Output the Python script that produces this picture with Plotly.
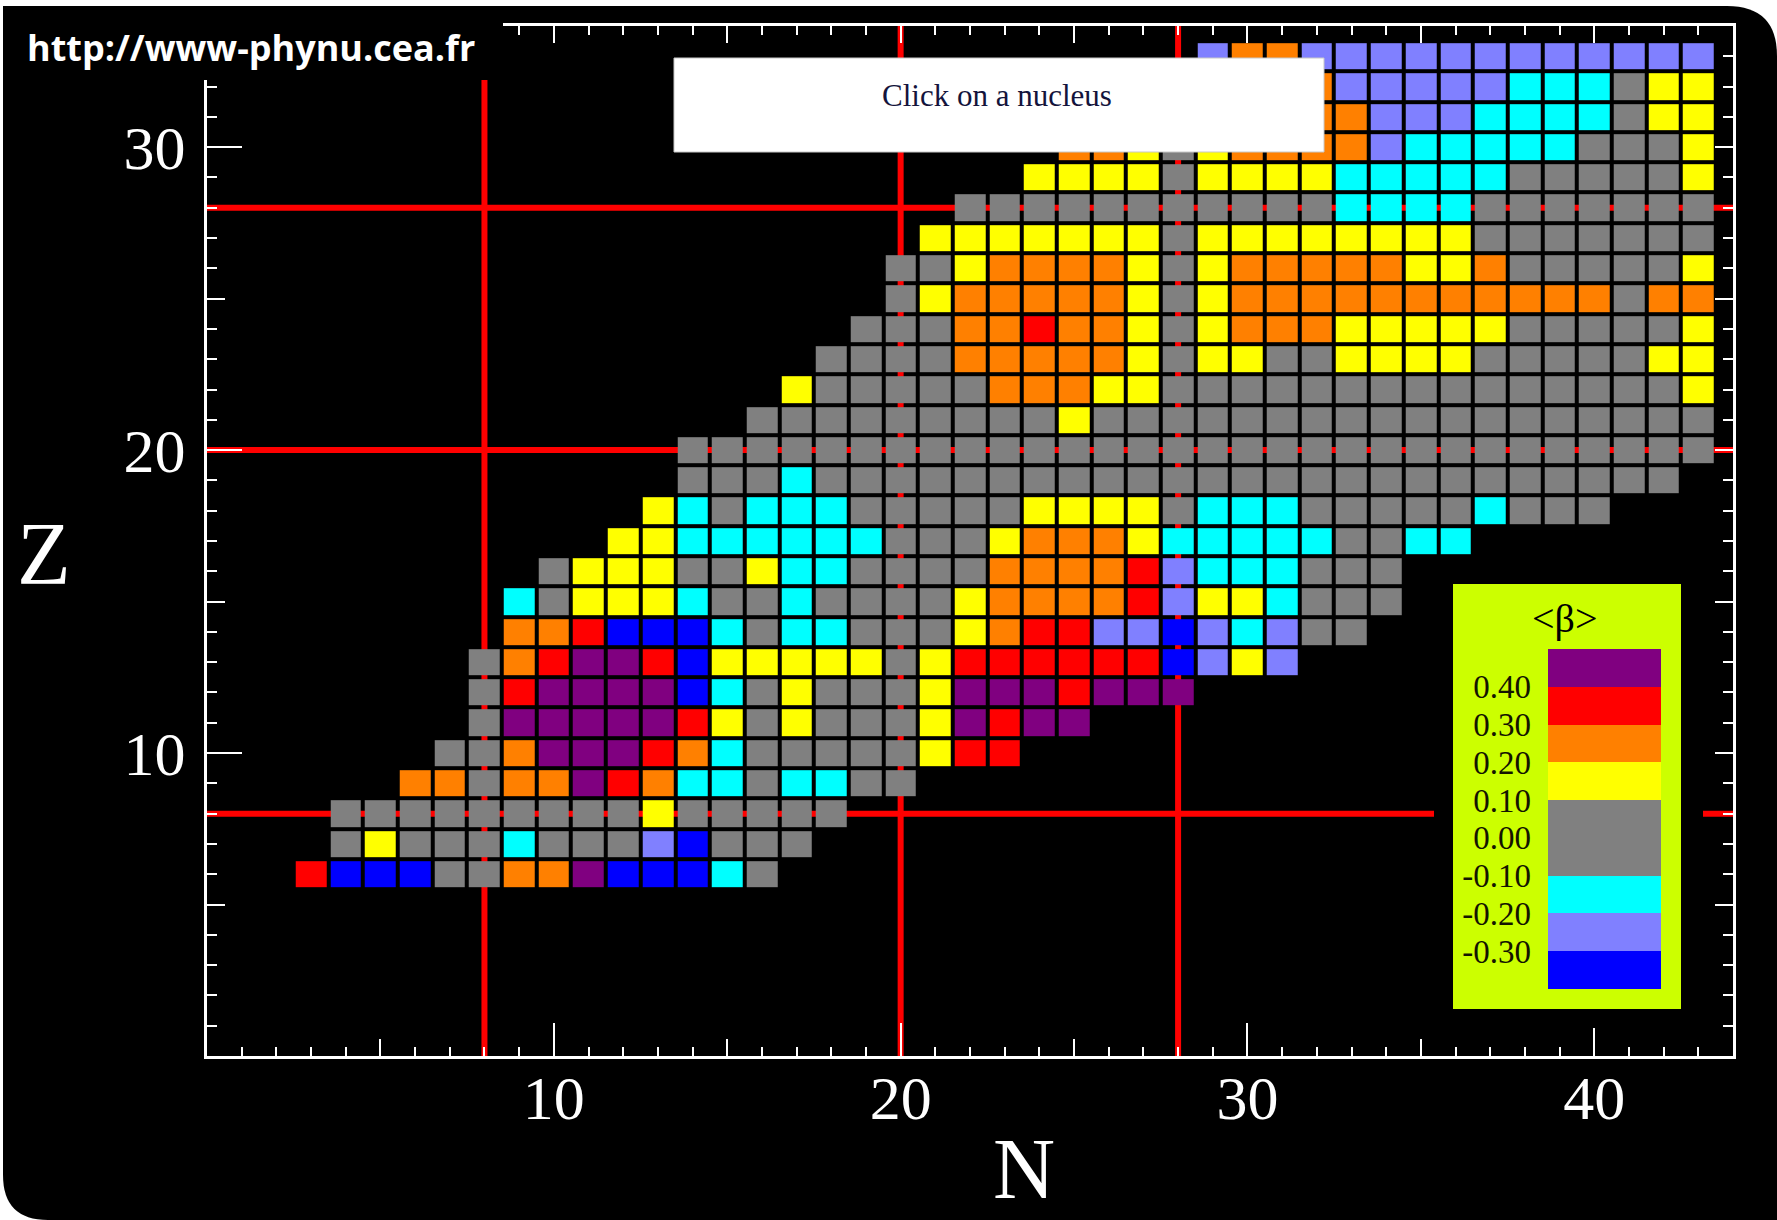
import plotly.graph_objects as go

# ---------------------------------------------------------------
# Light-nuclei chart: mean quadrupole deformation <β> per (N, Z)
# ---------------------------------------------------------------

# <β> classes (bin edges, one-letter code per bin, colour per bin)
BETA_EDGES = [-0.40, -0.30, -0.20, -0.10, 0.10, 0.20, 0.30, 0.40, 0.50]
BETA_CODES = ["B", "L", "C", "G", "Y", "O", "R", "P"]
BETA_COLORS = ["#0000ff", "#8080ff", "#00ffff", "#808080",
               "#ffff00", "#ff8000", "#ff0000", "#800080"]

# key labels
KEY_TICKS = [0.40, 0.30, 0.20, 0.10, 0.00, -0.10, -0.20, -0.30]
KEY_LABELS = ["0.40", "0.30", "0.20", "0.10", "0.00", "-0.10", "-0.20", "-0.30"]

# magic numbers (drawn as red guide lines)
MAGIC = [8, 20, 28]

# axis tick labels
N_TICKS = [10, 20, 30, 40]
Z_TICKS = [10, 20, 30]

# one row per proton number: first neutron number, then one class code per nucleus
Z_VALUES = list(range(6, 34))
N_FIRST = [3, 4, 4, 6, 7, 8, 8, 8, 9, 9, 10, 12, 13, 14,
           14, 16, 17, 18, 19, 20, 20, 21, 22, 24, 25, 32, 32, 29]
BETA_CLASS = [
    "RBBBGGOOPBBBCG",                                   # Z=6
    "GYGGGCGGGLBGGG",                                   # Z=7
    "GGGGGGGGGYGGGGG",                                  # Z=8
    "OOGOOPROCCGCCGG",                                  # Z=9
    "GGOPPPROC" "GGGGG" "YRR",                          # Z=10
    "GPPPPPRY" "GYGGG" "YPRPP",                         # Z=11
    "GRPPPPBC" "GYGGG" "YPPPRPPP",                      # Z=12
    "GORPPRBY" "YYYYG" "YRRRRRRBLYL",                   # Z=13
    "OORBBBC" "GCCGG" "GYORRLLBLCLGG",                  # Z=14
    "CGYYYCG" "GCGGG" "GYOOOORLYYCGGG",                 # Z=15
    "GYYYGG" "YCCGG" "GGOOOORLCCCGGG",                  # Z=16
    "YYCC" "CCCCG" "GGYOOOYCCCCCGGCC",                  # Z=17
    "YCG" "CCCGG" "GGGYYYYGCCCGGGGGCGGG",               # Z=18
    "GGGC" "GGGGGGGGGG" "GGGGGGGGGG" "GGGGG",           # Z=19
    "GGGGGGGGGG" "GGGGGGGGGG" "GGGGGGGGGG",             # Z=20
    "GGGGGGGGG" "Y" "GGGGGGGGG" "GGGGGGGGG",            # Z=21
    "Y" "GGGGG" "OOO" "YY" "GGGGGGGGGGGGGGG" "Y",       # Z=22
    "GGGG" "OOOOO" "Y" "G" "YY" "GG" "YYYY" "GGGGG" "YY",        # Z=23
    "GGG" "OOROO" "Y" "G" "Y" "OOO" "YYYYY" "GGGGG" "Y",         # Z=24
    "G" "Y" "OOOOO" "Y" "G" "Y" "OOOOOOOOOOO" "G" "OO",          # Z=25
    "GG" "Y" "OOOO" "Y" "G" "Y" "OOOOO" "YY" "O" "GGGGG" "Y",    # Z=26
    "YYYYYYY" "G" "YYYYYYYY" "GGGGGGG",                 # Z=27
    "GGGGGGGGGGG" "CCCC" "GGGGGGG",                     # Z=28
    "YYYY" "G" "YYYY" "CCCCC" "GGGGG" "Y",              # Z=29
    "OO" "Y" "G" "Y" "OOOO" "L" "CCCCC" "GGG" "Y",      # Z=30
    "OO" "LLL" "CCCC" "G" "YY",                         # Z=31
    "O" "LLLLL" "CCC" "G" "YY",                         # Z=32
    "L" "OO" "LLLLLLLLLLLL",                            # Z=33
]

# ---------------------------------------------------------------
# figure geometry (pixels) and helpers to place decorations
# ---------------------------------------------------------------
W, H = 1777, 1220
ML, MR, MT, MB = 207, 44, 26, 164
PW, PH = W - ML - MR, H - MT - MB


def fx(px):
    return (px - ML) / PW


def fy(py):
    return (H - MB - py) / PH


# key strip: [0, 1] horizontally and the β bins vertically
KEY_X0, KEY_X1 = 1548, 1661      # strip left/right (px)
KEY_Y0, KEY_Y1 = 989, 649        # strip bottom/top (px)


def kx(px):
    return (px - KEY_X0) / (KEY_X1 - KEY_X0)


def ky(py):
    lo, hi = BETA_EDGES[0], BETA_EDGES[-1]
    return lo + (KEY_Y0 - py) / (KEY_Y0 - KEY_Y1) * (hi - lo)


SERIF = "Liberation Serif, Times New Roman, serif"

# ---------------------------------------------------------------
# data grid
# ---------------------------------------------------------------
lo, hi = BETA_EDGES[0], BETA_EDGES[-1]
bin_mid = {c: 0.5 * (BETA_EDGES[i] + BETA_EDGES[i + 1]) for i, c in enumerate(BETA_CODES)}

n_axis = list(range(min(N_FIRST), 44))
grid = [[None] * len(n_axis) for _ in Z_VALUES]
for r, (n0, row) in enumerate(zip(N_FIRST, BETA_CLASS)):
    for k, code in enumerate(row):
        grid[r][n0 + k - n_axis[0]] = bin_mid[code]

colorscale = []
for i, col in enumerate(BETA_COLORS):
    a = round((BETA_EDGES[i] - lo) / (hi - lo), 6)
    b = round((BETA_EDGES[i + 1] - lo) / (hi - lo), 6)
    colorscale += [[a, col], [b, col]]

fig = go.Figure()

fig.add_trace(go.Heatmap(
    x=n_axis, y=Z_VALUES, z=grid,
    colorscale=colorscale, zmin=lo, zmax=hi, showscale=False,
    xgap=4, ygap=4, hoverongaps=False,
    hovertemplate="N=%{x}<br>Z=%{y}<br>β=%{z:.2f}<extra></extra>",
))

# overlay axes carrying the 5-unit and 1-unit ticks (mirrored top/right)
fig.add_trace(go.Scatter(x=[], y=[], xaxis="x2", yaxis="y2",
                         showlegend=False, hoverinfo="skip"))

# colour key
fig.add_trace(go.Heatmap(
    x=[0, 1], y=BETA_EDGES,
    z=[[bin_mid[c]] for c in BETA_CODES],
    colorscale=colorscale, zmin=lo, zmax=hi, showscale=False,
    xaxis="x3", yaxis="y3", hoverinfo="skip",
))

shapes = []

# page background: black card with two rounded corners
r_tr, r_bl = 50, 45
L0, T0 = 3, 6
card = (
    f"M {fx(L0)},{fy(T0)} "
    f"L {fx(W - r_tr)},{fy(T0)} "
    f"Q {fx(W)},{fy(T0)} {fx(W)},{fy(T0 + r_tr)} "
    f"L {fx(W)},{fy(H)} "
    f"L {fx(L0 + r_bl)},{fy(H)} "
    f"Q {fx(L0)},{fy(H)} {fx(L0)},{fy(H - r_bl)} Z"
)
shapes.append(dict(type="path", xref="paper", yref="paper", path=card,
                   fillcolor="black", line=dict(width=0), layer="below"))

# magic-number guide lines
for m in MAGIC:
    shapes.append(dict(type="line", xref="x", yref="y domain", x0=m, x1=m, y0=0, y1=1,
                       line=dict(color="#ff0000", width=6), layer="below"))
    shapes.append(dict(type="line", xref="x domain", yref="y", x0=0, x1=1, y0=m, y1=m,
                       line=dict(color="#ff0000", width=6), layer="below"))

# key panel (yellow-green card behind the strip)
shapes.append(dict(type="rect", xref="x3", yref="y3",
                   x0=kx(1453), x1=kx(1681), y0=ky(1009), y1=ky(584),
                   fillcolor="#ccff00", line=dict(width=0), layer="below"))

# "Click on a nucleus" box
shapes.append(dict(type="rect", xref="paper", yref="paper",
                   x0=fx(674), x1=fx(1324), y0=fy(152), y1=fy(58),
                   fillcolor="white", line=dict(color="#c8c8c8", width=1), layer="above"))

# site-label block in the top-left corner
shapes.append(dict(type="rect", xref="paper", yref="paper",
                   x0=fx(L0), x1=fx(503), y0=fy(80), y1=fy(T0),
                   fillcolor="black", line=dict(width=0), layer="above"))

annotations = [
    dict(text="<b>http://www-phynu.cea.fr</b>", xref="paper", yref="paper",
         x=fx(25), y=fy(47), xanchor="left", yanchor="middle", showarrow=False,
         font=dict(family="Open Sans, Lato, sans-serif", size=36, color="white")),
    dict(text="Click on a nucleus", xref="paper", yref="paper",
         x=fx(997), y=fy(95), xanchor="center", yanchor="middle", showarrow=False,
         font=dict(family=SERIF, size=31, color="#14143c")),
    dict(text="N", xref="paper", yref="paper",
         x=fx(1024), y=fy(1219), xanchor="center", yanchor="bottom", showarrow=False,
         font=dict(family=SERIF, size=86, color="white")),
    dict(text="Z", xref="paper", yref="paper",
         x=fx(44), y=fy(553), xanchor="center", yanchor="middle", showarrow=False,
         font=dict(family=SERIF, size=88, color="white")),
    dict(text="&lt;β&gt;", xref="x3", yref="y3",
         x=kx(1564), y=ky(618), xanchor="center", yanchor="middle", showarrow=False,
         font=dict(family=SERIF, size=40, color="black")),
]

tick_white = dict(family=SERIF, size=62, color="white")

fig.update_layout(
    width=W, height=H,
    margin=dict(l=ML, r=MR, t=MT, b=MB, pad=0),
    paper_bgcolor="white", plot_bgcolor="black",
    showlegend=False,
    xaxis=dict(range=[0, 44], tickmode="array", tickvals=N_TICKS,
               ticks="inside", ticklen=33, tickwidth=2, tickcolor="white",
               showline=True, linecolor="white", linewidth=3, mirror=True,
               showgrid=False, zeroline=False, tickfont=tick_white,
               ticklabelstandoff=-14),
    yaxis=dict(range=[0, 34], tickmode="array", tickvals=Z_TICKS,
               ticks="inside", ticklen=35, tickwidth=2, tickcolor="white",
               showline=True, linecolor="white", linewidth=3, mirror=True,
               showgrid=False, zeroline=False, tickfont=tick_white,
               ticklabelstandoff=6),
    xaxis2=dict(overlaying="x", anchor="y2", range=[0, 44],
                tickmode="linear", tick0=0, dtick=5,
                ticks="inside", ticklen=17, tickwidth=2, tickcolor="white",
                minor=dict(ticks="inside", tickmode="linear", tick0=0, dtick=1,
                           ticklen=9, tickwidth=2, tickcolor="white"),
                mirror="ticks", showline=False, showticklabels=False,
                showgrid=False, zeroline=False),
    yaxis2=dict(overlaying="y", anchor="x2", range=[0, 34],
                tickmode="linear", tick0=0, dtick=5,
                ticks="inside", ticklen=18, tickwidth=2, tickcolor="white",
                minor=dict(ticks="inside", tickmode="linear", tick0=0, dtick=1,
                           ticklen=10, tickwidth=2, tickcolor="white"),
                mirror="ticks", showline=False, showticklabels=False,
                showgrid=False, zeroline=False),
    xaxis3=dict(domain=[fx(1434), fx(1703)], range=[kx(1434), kx(1703)],
                anchor="y3", visible=False, fixedrange=True),
    yaxis3=dict(domain=[fy(1028), fy(565)], range=[ky(1028), ky(565)],
                anchor="free", position=fx(KEY_X0), side="left",
                tickmode="array", tickvals=KEY_TICKS, ticktext=KEY_LABELS,
                ticks="", showline=False, showgrid=False, zeroline=False,
                tickfont=dict(family=SERIF, size=33, color="#141400"),
                ticklabelstandoff=17, fixedrange=True),
    shapes=shapes,
    annotations=annotations,
)

fig.write_html("out.html", config={"displayModeBar": False})
